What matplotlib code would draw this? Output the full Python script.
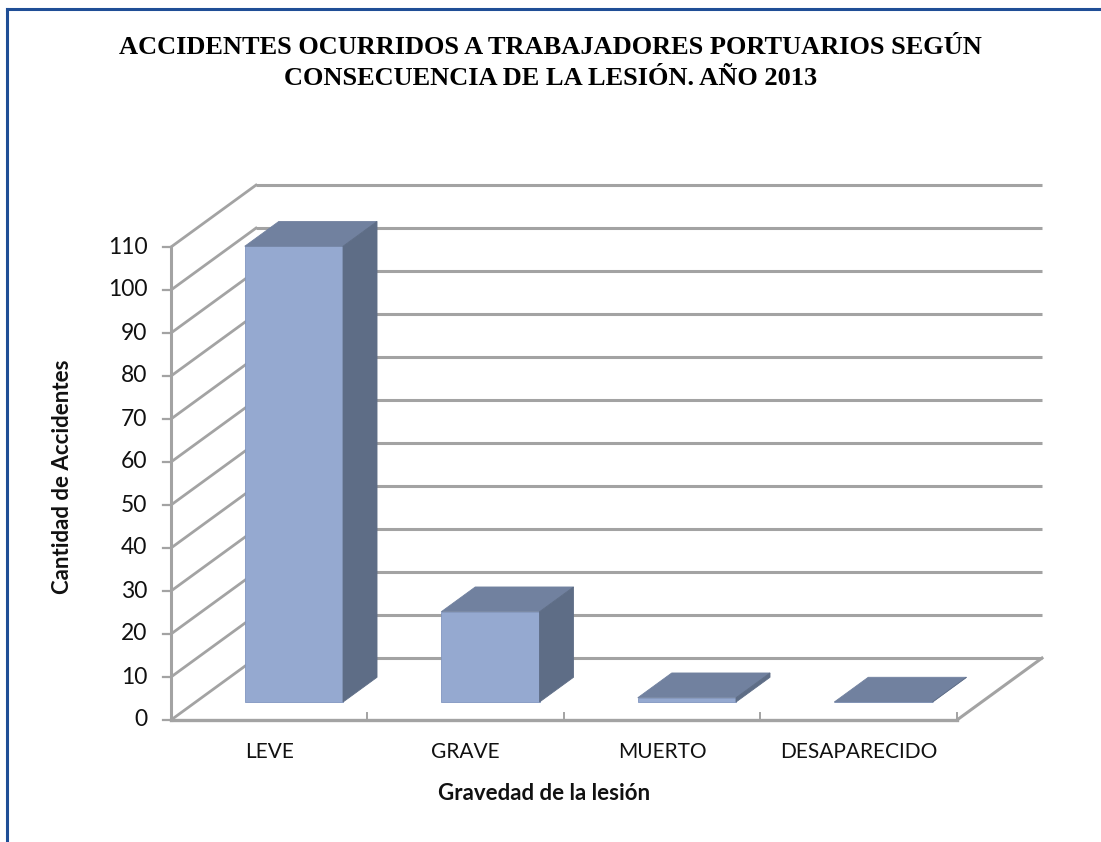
import matplotlib.pyplot as plt
from matplotlib.patches import Polygon
from matplotlib.lines import Line2D

categories = ["LEVE", "GRAVE", "MUERTO", "DESAPARECIDO"]
values = [106, 21, 1, 0]
y_ticks = list(range(0, 111, 10))

title = "ACCIDENTES OCURRIDOS A TRABAJADORES PORTUARIOS SEGÚN\nCONSECUENCIA DE LA LESIÓN. AÑO 2013"
x_title = "Gravedad de la lesión"
y_title = "Cantidad de Accidentes"

# fake 3d depth (full depth of the plot box, in data units)
DX, DY = 0.4326, 14.4
front_d, back_d = 0.29, 0.69
grid_col = "#a3a3a3"
face_col = "#95a9d0"
top_col = "#71819f"
side_col = "#5e6d86"

fig = plt.figure(figsize=(11.01, 8.42), dpi=100)
ax = fig.add_axes([171 / 1101, 122 / 842, 874.4 / 1101, 537.5 / 842])
ax.set_xlim(0, 4.45)
ax.set_ylim(0, 125)
ax.axis("off")

n = len(categories)
ymax = y_ticks[-1]

# back wall + side wall grid
for v in y_ticks:
    ax.plot([DX, n + DX], [v + DY, v + DY], color=grid_col, lw=2.2, zorder=1,
            solid_capstyle="butt", clip_on=False)
    ax.plot([0, DX], [v, v + DY], color=grid_col, lw=2.0, zorder=1, clip_on=False)
    ax.plot([-0.04, 0], [v, v], color=grid_col, lw=1.6, zorder=1, clip_on=False)
    ax.text(-0.12, v, str(v), ha="right", va="center", fontsize=16.5,
            family="Lato", color="#111111")

# floor and front axis
ax.plot([0, n], [0, 0], color=grid_col, lw=2.4, zorder=1, clip_on=False)
ax.plot([n, n + DX], [0, DY], color=grid_col, lw=2.2, zorder=1, clip_on=False)
ax.plot([0, 0], [0, ymax], color=grid_col, lw=2.2, zorder=1, clip_on=False)
for i in range(1, n + 1):
    ax.plot([i, i], [0, 1.7], color=grid_col, lw=1.4, zorder=1)

# bars
fx, fy = front_d * DX, front_d * DY
bx, by = back_d * DX, back_d * DY
for i, v in enumerate(values):
    x0, x1 = i + 0.25, i + 0.75
    ax.bar(x0 + fx, v, width=0.5, bottom=fy, align="edge", color=face_col,
           edgecolor="#8196c0", lw=0.6, zorder=3)
    top = [(x0 + fx, v + fy), (x1 + fx, v + fy), (x1 + bx, v + by), (x0 + bx, v + by)]
    ax.add_patch(Polygon(top, closed=True, facecolor=top_col, edgecolor=top_col,
                         lw=0.6, zorder=4))
    side = [(x1 + fx, fy), (x1 + bx, by), (x1 + bx, v + by), (x1 + fx, v + fy)]
    ax.add_patch(Polygon(side, closed=True, facecolor=side_col, edgecolor=side_col,
                         lw=0.6, zorder=4))
    ax.text(i + 0.5, -5.2, categories[i], ha="center", va="top", fontsize=15,
            family="Lato", color="#111111")

ax.text(1.9, -14.6, x_title, ha="center", va="top", fontsize=16,
        family="Lato", fontweight="bold", color="#111111")
ax.text(-0.55, 56.5, y_title, ha="center", va="center", rotation=90, fontsize=16,
        family="Lato", fontweight="bold", color="#111111")

fig.text(0.5, 1 - 63 / 842, title, ha="center", va="center", fontsize=19,
         family="Liberation Serif", fontweight="bold", linespacing=1.45)

# outer frame (top and left only visible)
frame = "#1f4e96"
fig.add_artist(Line2D([7 / 1101, 1], [1 - 8.5 / 842, 1 - 8.5 / 842],
                      color=frame, lw=2.2, transform=fig.transFigure))
fig.add_artist(Line2D([7 / 1101, 7 / 1101], [0, 1 - 8.5 / 842],
                      color=frame, lw=2.2, transform=fig.transFigure))

plt.savefig("out.png", dpi=100)
